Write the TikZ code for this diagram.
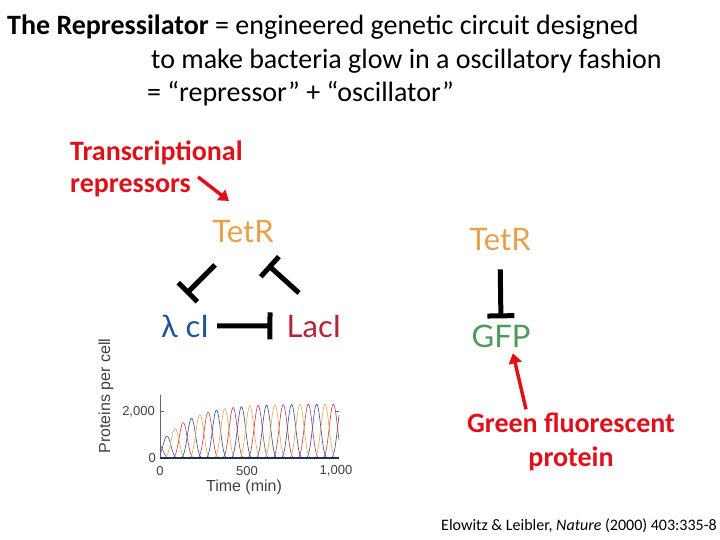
\documentclass[tikz,border=0pt]{standalone}
\usepackage{fontspec}
\setmainfont{Carlito}
\newfontfamily\diagfont{Lato}
\newfontfamily\plotfont{Liberation Sans}
\usetikzlibrary{arrows.meta, positioning, calc}

\definecolor{tetrorange}{HTML}{E9A048}
\definecolor{lciblue}{HTML}{1F5596}
\definecolor{lacired}{HTML}{B32434}
\definecolor{gfpgreen}{HTML}{4E9A5A}
\definecolor{slidered}{HTML}{E0101A}
\definecolor{plotblue}{HTML}{2E4E8E}
\definecolor{plotred}{HTML}{B83A55}
\definecolor{plotorange}{HTML}{EAA448}

\tikzset{
  slidetext/.style={font=\fontsize{28}{32}\selectfont, anchor=base west, inner sep=0pt},
  redlabel/.style={font=\bfseries\fontsize{28}{32}\selectfont, text=slidered, inner sep=0pt},
  gene/.style={font=\diagfont\fontsize{31}{34}\selectfont, inner sep=2pt, anchor=base},
  repress/.style={line width=5pt, -{Bar[width=27pt]}},
  redarrow/.style={line width=3.5pt, slidered, -{Triangle[width=13pt,length=10pt]}},
  ticklabel/.style={font=\plotfont\fontsize{13}{15}\selectfont, text=black!75, inner sep=1pt},
  axislabel/.style={font=\plotfont\fontsize{16}{18}\selectfont, text=black!75, inner sep=0pt}
}

\begin{document}
\begin{tikzpicture}[x=1pt, y=-1pt]
    \useasboundingbox (0,0) rectangle (720,540);

    % Titolo
    \node[slidetext] (t1) at (7,35) {\textbf{The Repressilator} = engineered genetic circuit designed};
    \node[slidetext] (t2) at (151,69) {to make bacteria glow in a oscillatory fashion};
    \node[slidetext] (t3) at (147,102) {= “repressor” + “oscillator”};

    % Etichette rosse
    \node[redlabel, anchor=base west] (trans) at (70,161) {Transcriptional};
    \node[redlabel, anchor=base west] (repr) at (70,193) {repressors};
    \node[redlabel, anchor=base] (green) at (571,432) {Green fluorescent};
    \node[redlabel, anchor=base] (prot) at (571,466) {protein};

    % Circuito a tre geni
    \node[gene, text=tetrorange] (tetrA) at (243,243) {TetR};
    \node[gene, text=lciblue] (lci) at (185,337) {λ cI};
    \node[gene, text=lacired] (laci) at (314,337) {LacI};

    \coordinate (tetrL) at (215,265);
    \coordinate (lciT) at (186,294);
    \coordinate (laciT) at (299,293);
    \coordinate (tetrR) at (268,265);

    \draw[repress] (tetrL) -- (lciT);
    \draw[repress] (laciT) -- (tetrR);
    \draw[repress, shorten <=6pt, shorten >=12pt] (lci.east) -- (laci.west);

    % Reporter
    \node[gene, text=tetrorange] (tetrB) at (500,251) {TetR};
    \node[gene, text=gfpgreen] (gfp) at (501,347) {GFP};
    \draw[repress, shorten <=16pt, shorten >=4pt] (tetrB.south) -- (gfp.north);

    % Frecce rosse
    \coordinate (tetrtip) at (229,201);
    \draw[redarrow] ([xshift=7pt,yshift=2pt]repr.north east) -- (tetrtip);
    \draw[redarrow, shorten >=4pt] ([xshift=-45pt,yshift=3pt]green.north) -- ([xshift=11pt]gfp.south);

    % Grafico delle oscillazioni
    \draw[black!60, line width=0.5pt] (160,395) -- (160,458);
    \draw[black!60, line width=0.5pt] (160,411) -- (164,411);
    \draw[black!60, line width=0.5pt] (339,411) -- (335,411);
    \foreach \ph/\col in {0/plotblue, 120/plotred, 240/plotorange}
        \draw[\col, line width=0.6pt] plot[domain=0:1000, samples=400, smooth]
            ({160+0.179*\x},{458-0.0235*(2300-1700*exp(-\x/170))*((1+sin(2.571*\x+\ph))/2)^2});
    \draw[plotblue!60!black, line width=1.5pt] (160,458) -- (339,458);

    \node[ticklabel, anchor=east] (y2000) at (156,412) {2,000};
    \node[ticklabel, anchor=east] (y0) at (157,458) {0};
    \node[ticklabel] (x0) at (160,471) {0};
    \node[ticklabel] (x500) at (247,471) {500};
    \node[ticklabel] (x1000) at (336,471) {1,000};
    \node[axislabel] (xlab) at (244,487) {Time (min)};
    \node[axislabel, rotate=90] (ylab) at (106,396) {Proteins per cell};

    % Riferimento
    \node[font=\fontsize{16}{18}\selectfont, anchor=base east, inner sep=0pt] (cite) at (717,530)
        {Elowitz \& Leibler, \textit{Nature} (2000) 403:335-8};
\end{tikzpicture}
\end{document}
